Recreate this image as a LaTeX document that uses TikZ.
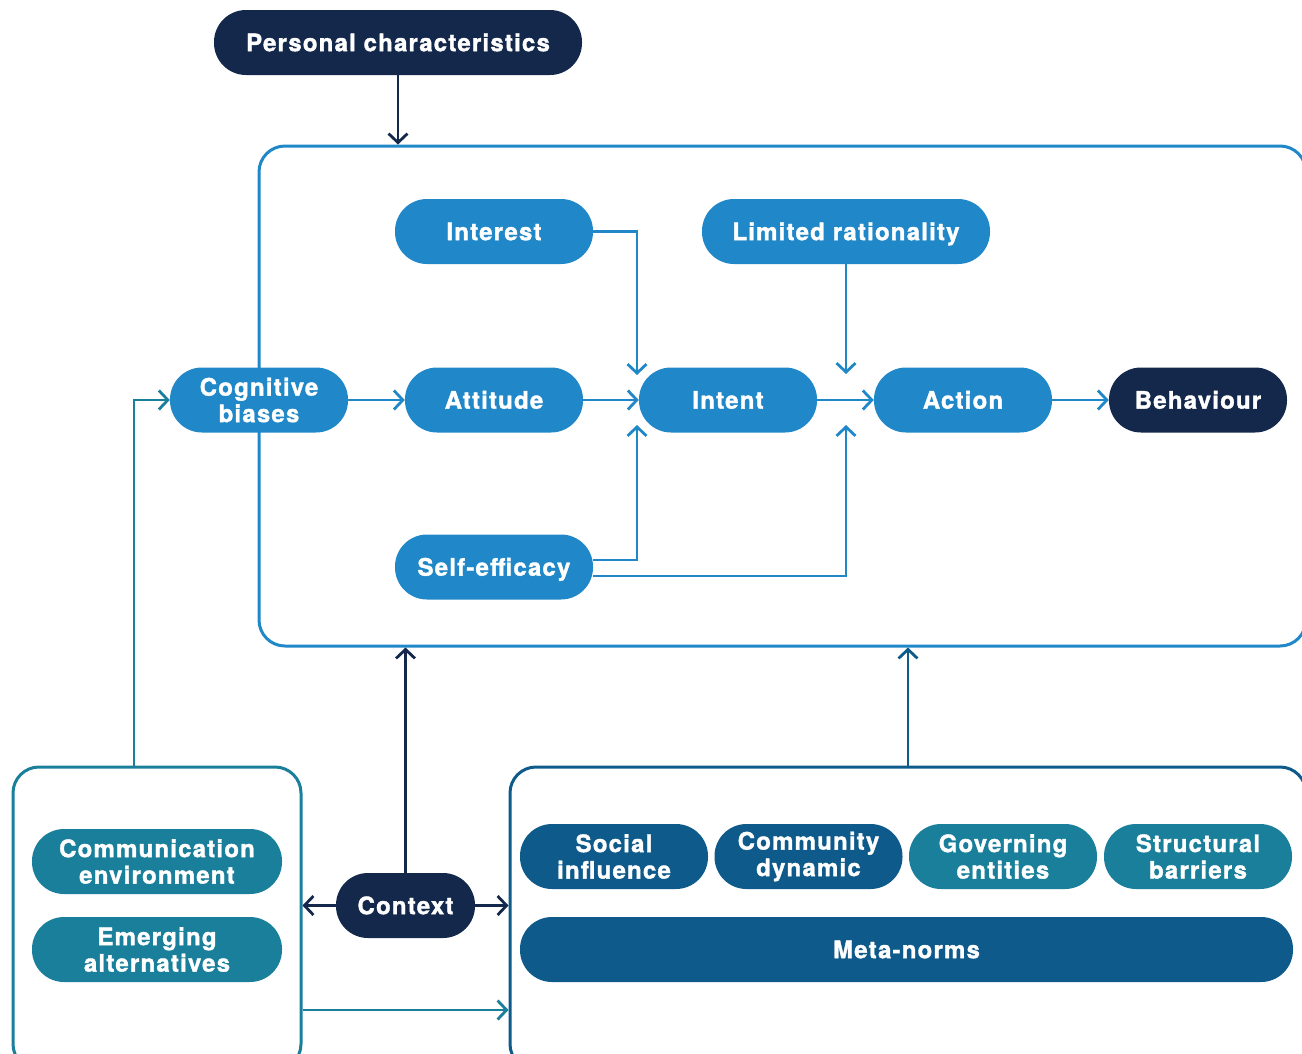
\documentclass[tikz,border=0pt]{standalone}
\usepackage{fontspec}
\setmainfont{TeX Gyre Heros}[LetterSpace=5, BoldFeatures={FakeBold=1.5}]
\usetikzlibrary{arrows.meta}
\definecolor{navy}{HTML}{13284A}
\definecolor{cblue}{HTML}{2088C8}
\definecolor{cteal}{HTML}{1A7F9A}
\definecolor{dblue}{HTML}{0E5A8A}
\begin{document}
\begin{tikzpicture}[x=1pt,y=-1pt,
  pill/.style={rectangle, rounded corners=32pt, minimum height=65pt, inner sep=0pt,
    text=white, align=center, font=\bfseries\fontsize{24}{26.5}\selectfont},
  one/.style={text height=22pt, text depth=4.7pt},
  frame/.style={draw, line width=3pt, rounded corners=26pt, inner sep=0pt},
  conn/.style={line width=2.8pt, -{Straight Barb[length=9pt,width=19pt,line width=2.8pt]}},
]
\useasboundingbox (0,0) rectangle (1302,1053);
\clip (0,0) rectangle (1302,1053);
% frames
\node[frame, draw=cblue, minimum width=1047pt, minimum height=500pt] (main) at (782.5,396) {};
\node[frame, draw=cteal, minimum width=288pt, minimum height=303pt] (leftbox) at (157,918.5) {};
\node[frame, draw=dblue, minimum width=796pt, minimum height=303pt] (rightbox) at (908,918.5) {};
% nodes
\node[pill, one, fill=navy, minimum width=368pt] (pc) at (398,42.5) {Personal characteristics};
\node[pill, one, fill=cblue, minimum width=198pt] (interest) at (494,231.5) {Interest};
\node[pill, one, fill=cblue, minimum width=288pt] (limrat) at (846,231.5) {Limited rationality};
\node[pill, fill=cblue, minimum width=178pt] (cb) at (259,400) {Cognitive\\biases};
\node[pill, one, fill=cblue, minimum width=178pt] (attitude) at (494,400) {Attitude};
\node[pill, one, fill=cblue, minimum width=178pt] (intent) at (728,400) {Intent};
\node[pill, one, fill=cblue, minimum width=178pt] (action) at (963,400) {Action};
\node[pill, one, fill=navy, minimum width=178pt] (behaviour) at (1198,400) {Behaviour};
\node[pill, one, fill=cblue, minimum width=198pt] (selfeff) at (494,567) {Self-efficacy};
\node[pill, fill=cteal, minimum width=250pt] (comm) at (157,861.5) {Communication\\environment};
\node[pill, fill=cteal, minimum width=250pt] (emerg) at (157,949.5) {Emerging\\alternatives};
\node[pill, one, fill=navy, minimum width=139pt] (context) at (405.5,905.5) {Context};
\node[pill, fill=dblue, minimum width=188pt] (social) at (614,856.5) {Social\\influence};
\node[pill, fill=dblue, minimum width=188pt] (community) at (808.5,856.5) {Community\\dynamic};
\node[pill, fill=cteal, minimum width=188pt] (governing) at (1003,856.5) {Governing\\entities};
\node[pill, fill=cteal, minimum width=188pt] (structural) at (1198,856.5) {Structural\\barriers};
\node[pill, one, fill=dblue, minimum width=773pt] (metanorms) at (906.5,949.5) {Meta-norms};
% junctions
\coordinate (jI) at (637,400);
\coordinate (jA) at (846,400);
% connectors
\draw[conn, navy] (pc.south) -- (pc.south |- main.north);
\draw[conn, cblue] (cb.east) -- (attitude.west);
\draw[conn, cblue] (attitude.east) -- (intent.west);
\draw[conn, cblue] (intent.east) -- (action.west);
\draw[conn, cblue] (action.east) -- (behaviour.west);
\draw[conn, cblue] (interest.east) -| ([yshift=25pt]jI);
\draw[conn, cblue] (limrat.south) -- ([yshift=26pt]jA);
\draw[conn, cblue] ([yshift=7pt]selfeff.east) -| ([yshift=-25pt]jI);
\draw[conn, cblue] ([yshift=-9pt]selfeff.east) -| ([yshift=-25pt]jA);
\draw[conn, cteal] ([xshift=-23pt]leftbox.north) |- (cb.west);
\draw[conn, navy] (context.north) -- (context.north |- main.south);
\draw[conn, navy] (context.west) -- (context.west -| leftbox.east);
\draw[conn, navy] (context.east) -- (context.east -| rightbox.west);
\draw[conn, cteal] (leftbox.east |- 0,1010) -- (rightbox.west |- 0,1010);
\draw[conn, dblue] (rightbox.north |- 0,767) -- (rightbox.north |- main.south);
\end{tikzpicture}
\end{document}
